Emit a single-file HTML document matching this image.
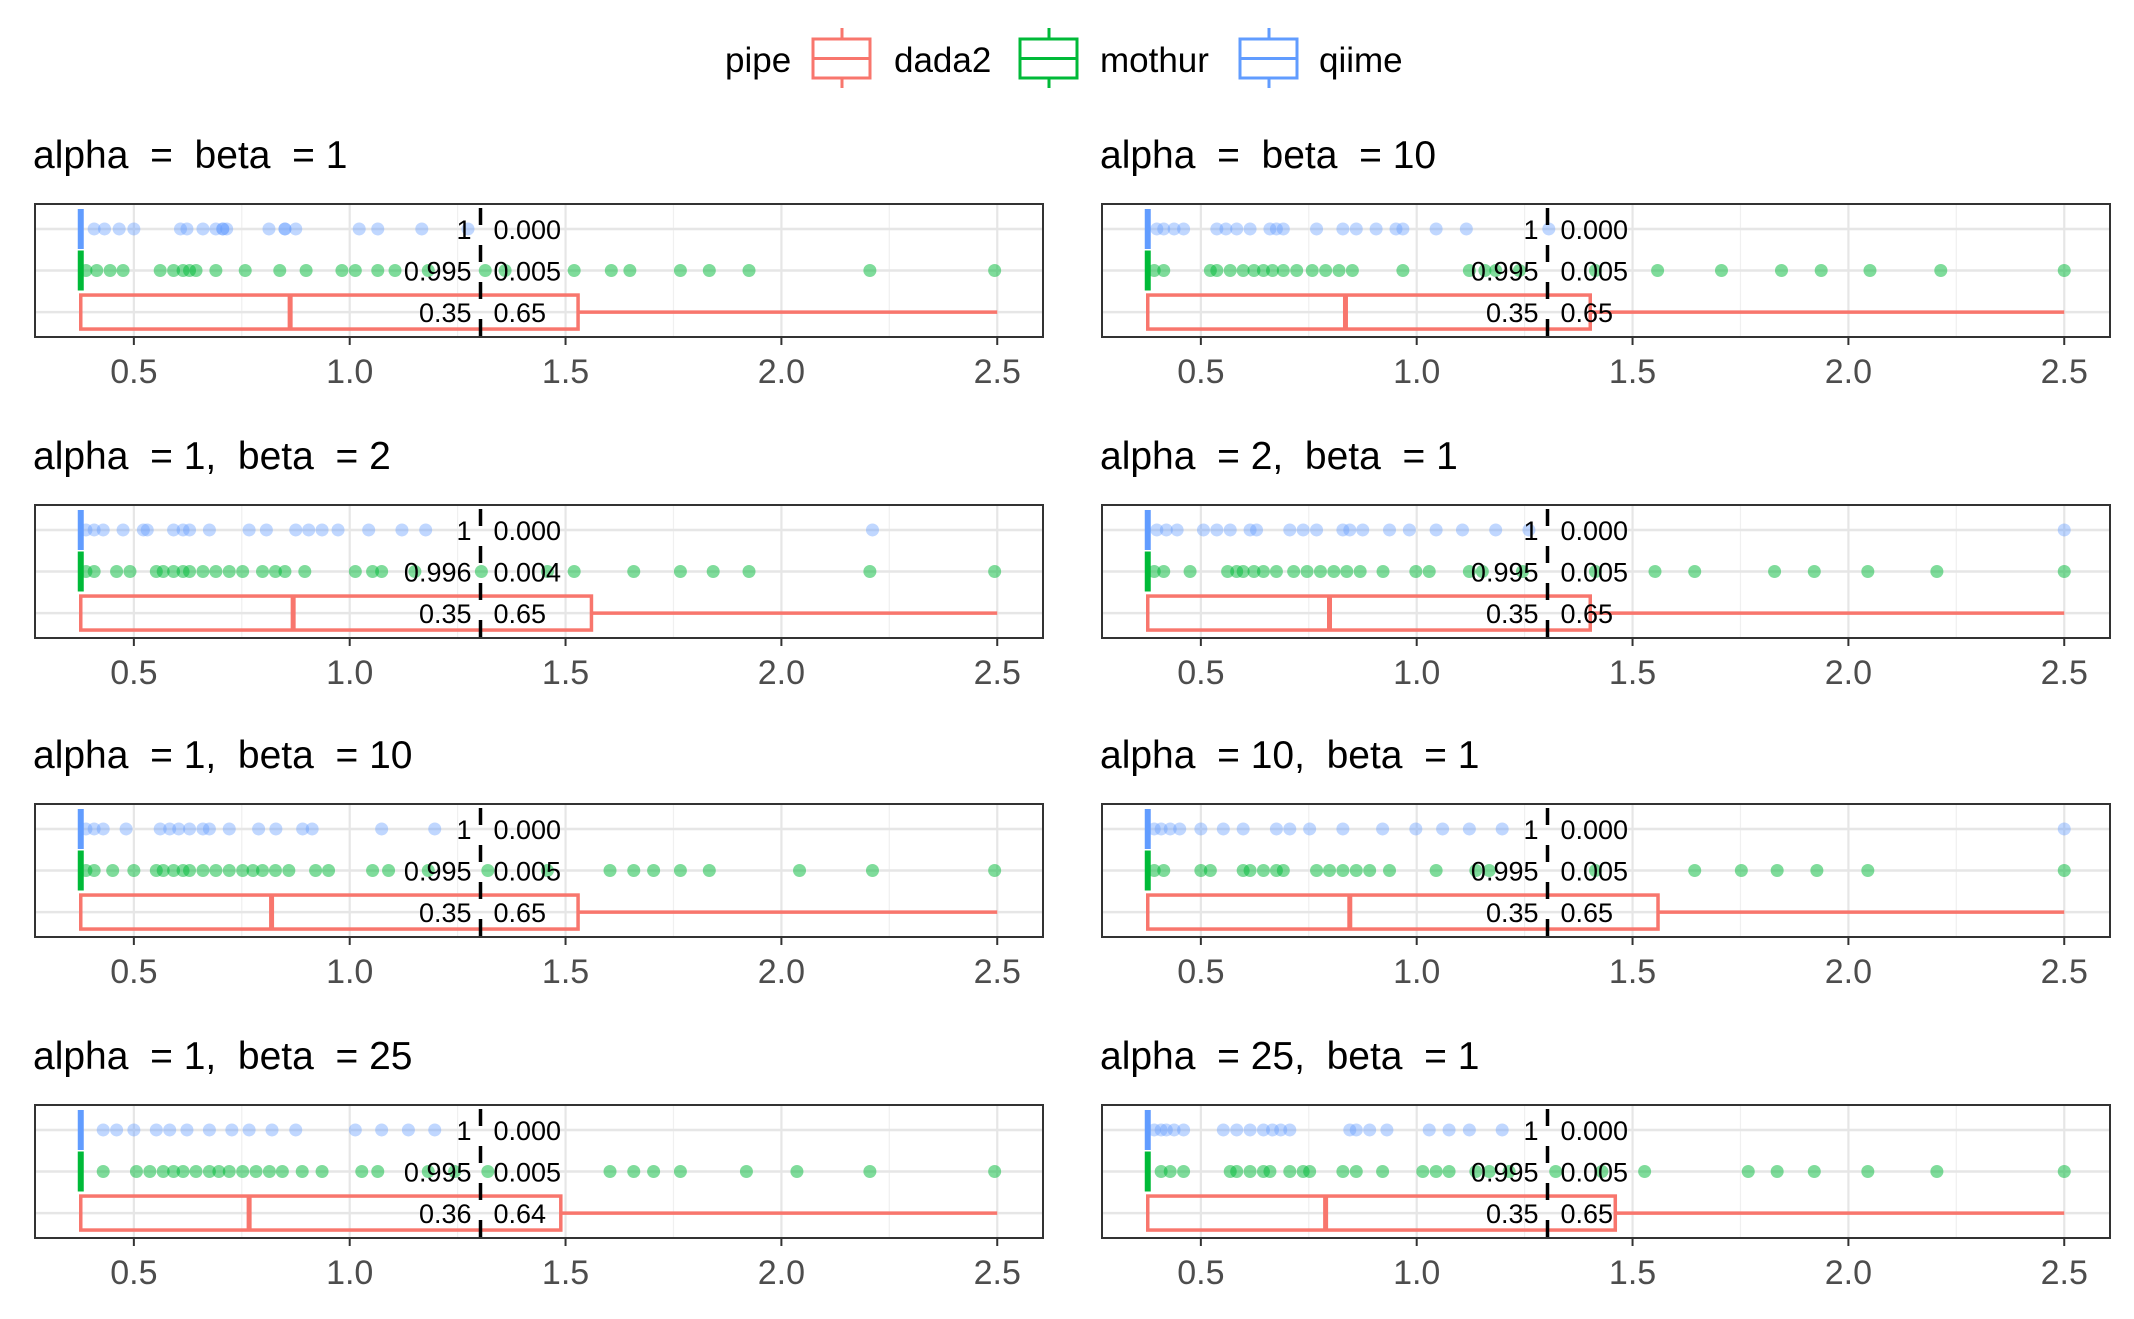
<!DOCTYPE html>
<html><head><meta charset="utf-8">
<style>
html,body{margin:0;padding:0;background:#fff;}
svg{display:block;font-family:"Liberation Sans",Arial,sans-serif;}
</style></head>
<body>
<svg id="chart" width="2134" height="1319" viewBox="0 0 2134 1319" xmlns="http://www.w3.org/2000/svg">
  <g>
    <text x="725" y="72" font-size="35" fill="#000">pipe</text>
    <g>
      <line x1="842" y1="28" x2="842" y2="88" stroke="#F8766D" stroke-width="3"/>
      <rect x="813" y="39" width="57" height="39" fill="#fff" stroke="#F8766D" stroke-width="3"/>
      <line x1="813" y1="58.5" x2="870" y2="58.5" stroke="#F8766D" stroke-width="3"/>
      <text x="894" y="72" font-size="35" fill="#000">dada2</text>
    </g>
    <g>
      <line x1="1049" y1="28" x2="1049" y2="88" stroke="#00BA38" stroke-width="3"/>
      <rect x="1020" y="39" width="57" height="39" fill="#fff" stroke="#00BA38" stroke-width="3"/>
      <line x1="1020" y1="58.5" x2="1077" y2="58.5" stroke="#00BA38" stroke-width="3"/>
      <text x="1100" y="72" font-size="35" fill="#000">mothur</text>
    </g>
    <g>
      <line x1="1269" y1="28" x2="1269" y2="88" stroke="#619CFF" stroke-width="3"/>
      <rect x="1240" y="39" width="57" height="39" fill="#fff" stroke="#619CFF" stroke-width="3"/>
      <line x1="1240" y1="58.5" x2="1297" y2="58.5" stroke="#619CFF" stroke-width="3"/>
      <text x="1319" y="72" font-size="35" fill="#000">qiime</text>
    </g>
  </g>
</svg>
<script>
const panelTitles = ["alpha  =  beta  = 1","alpha  =  beta  = 10","alpha  = 1,  beta  = 2","alpha  = 2,  beta  = 1","alpha  = 1,  beta  = 10","alpha  = 10,  beta  = 1","alpha  = 1,  beta  = 25","alpha  = 25,  beta  = 1"];
const xTicks = [0.5, 1.0, 1.5, 2.0, 2.5];
const xTickLabels = ["0.5","1.0","1.5","2.0","2.5"];
const xMinorTicks = [0.75, 1.25, 1.75, 2.25];
const xDomain = [0.271, 2.606];
const cutoff = 1.303;
const minValue = 0.377;
const qiimePoints = [
 [0.408,0.432,0.466,0.5,0.608,0.623,0.66,0.69,0.706,0.706,0.715,0.813,0.85,0.85,0.875,1.022,1.065,1.167,1.274],
 [0.398,0.414,0.438,0.46,0.537,0.558,0.583,0.614,0.66,0.675,0.691,0.768,0.829,0.86,0.906,0.952,0.968,1.045,1.115,1.306],
 [0.389,0.408,0.429,0.475,0.522,0.531,0.592,0.614,0.629,0.675,0.767,0.807,0.875,0.905,0.936,0.973,1.044,1.121,1.176,2.211],
 [0.398,0.42,0.445,0.506,0.537,0.568,0.614,0.629,0.706,0.737,0.768,0.829,0.845,0.875,0.937,0.983,1.045,1.106,1.183,1.26,2.5],
 [0.389,0.408,0.429,0.482,0.561,0.583,0.604,0.629,0.66,0.675,0.721,0.789,0.829,0.891,0.913,1.074,1.197],
 [0.392,0.408,0.429,0.451,0.5,0.552,0.598,0.675,0.706,0.752,0.829,0.921,0.998,1.06,1.122,1.198,2.5],
 [0.429,0.46,0.5,0.552,0.583,0.623,0.675,0.727,0.767,0.82,0.875,1.013,1.074,1.136,1.197],
 [0.392,0.408,0.42,0.438,0.46,0.552,0.583,0.614,0.645,0.666,0.685,0.706,0.845,0.86,0.891,0.931,1.029,1.075,1.122,1.198]
];
const mothurPoints = [
 [0.389,0.414,0.445,0.475,0.561,0.592,0.614,0.629,0.644,0.69,0.758,0.838,0.899,0.982,1.013,1.065,1.105,1.182,1.314,1.36,1.52,1.606,1.649,1.766,1.833,1.925,2.205,2.494],
 [0.392,0.414,0.522,0.537,0.568,0.598,0.623,0.645,0.666,0.691,0.722,0.758,0.789,0.82,0.851,0.968,1.122,1.158,1.183,1.238,1.414,1.558,1.706,1.845,1.937,2.05,2.214,2.5],
 [0.389,0.408,0.46,0.491,0.552,0.568,0.592,0.614,0.629,0.66,0.69,0.721,0.752,0.798,0.828,0.85,0.896,1.013,1.053,1.074,1.151,1.305,1.458,1.52,1.658,1.766,1.842,1.925,2.205,2.494],
 [0.392,0.414,0.475,0.562,0.583,0.598,0.623,0.645,0.675,0.715,0.746,0.777,0.808,0.838,0.869,0.922,0.998,1.029,1.122,1.152,1.245,1.414,1.552,1.644,1.829,1.921,2.045,2.205,2.5],
 [0.389,0.408,0.451,0.5,0.552,0.568,0.592,0.614,0.629,0.66,0.69,0.721,0.752,0.776,0.798,0.828,0.859,0.921,0.951,1.053,1.09,1.182,1.32,1.458,1.603,1.658,1.704,1.766,1.833,2.042,2.211,2.494],
 [0.392,0.414,0.5,0.522,0.598,0.614,0.645,0.675,0.691,0.768,0.798,0.829,0.86,0.891,0.937,1.045,1.137,1.168,1.414,1.644,1.752,1.835,1.927,2.045,2.5],
 [0.429,0.506,0.537,0.568,0.592,0.614,0.644,0.675,0.697,0.721,0.752,0.783,0.814,0.844,0.89,0.936,1.028,1.065,1.182,1.243,1.32,1.603,1.658,1.704,1.766,1.919,2.036,2.205,2.494],
 [0.408,0.429,0.46,0.568,0.583,0.614,0.645,0.66,0.706,0.737,0.752,0.829,0.86,0.921,1.014,1.045,1.075,1.137,1.168,1.214,1.322,1.429,1.528,1.768,1.835,1.921,2.045,2.205,2.5]
];
const dadaMedian = [0.862,0.835,0.869,0.798,0.819,0.845,0.767,0.789];
const dadaQ3 = [1.529,1.402,1.56,1.402,1.529,1.559,1.489,1.46];
const dadaMax = [2.5,2.5,2.5,2.5,2.5,2.5,2.5,2.5];
const leftLabels = [["1","0.995","0.35"],["1","0.995","0.35"],["1","0.996","0.35"],["1","0.995","0.35"],["1","0.995","0.35"],["1","0.995","0.35"],["1","0.995","0.36"],["1","0.995","0.35"]];
const rightLabels = [["0.000","0.005","0.65"],["0.000","0.005","0.65"],["0.000","0.004","0.65"],["0.000","0.005","0.65"],["0.000","0.005","0.65"],["0.000","0.005","0.65"],["0.000","0.005","0.64"],["0.000","0.005","0.65"]];

const svg = document.getElementById('chart');
const NS = 'http://www.w3.org/2000/svg';
function mk(tag, attrs, parent){const e=document.createElementNS(NS,tag);for(const k in attrs)e.setAttribute(k,attrs[k]);parent.appendChild(e);return e;}
const PW=1008, PH=133;
const lefts=[35,1102], tops=[204,505,804,1105];
const colors={qiime:'#619CFF',mothur:'#00BA38',dada2:'#F8766D'};

for(let p=0;p<8;p++){
  const L=lefts[p%2], T=tops[Math.floor(p/2)];
  const xs=v=>L+(v-xDomain[0])/(xDomain[1]-xDomain[0])*PW;
  const ys=k=>T+(3.6-k)/3.2*PH;
  const g=mk('g',{},svg);
  
  
  const title=mk('text',{x:L-2,y:T-36,'font-size':39,fill:'#000'},g);
  
  
  title.style.whiteSpace='pre';
  title.textContent=panelTitles[p];
  const bg=mk('rect',{x:L,y:T,width:PW,height:PH,fill:'#fff'},g);
  
  
  xMinorTicks.forEach(v=>{const l=mk('line',{x1:xs(v),x2:xs(v),y1:T,y2:T+PH,stroke:'#f0f0f0','stroke-width':1.2},g);
    });
  xTicks.forEach(v=>{const l=mk('line',{x1:xs(v),x2:xs(v),y1:T,y2:T+PH,stroke:'#e6e6e6','stroke-width':2.2},g);
    });
  [1,2,3].forEach(k=>{const l=mk('line',{x1:L,x2:L+PW,y1:ys(k),y2:ys(k),stroke:'#e6e6e6','stroke-width':2.5},g);
    });
  const qy=ys(3), my=ys(2), dy=ys(1);
  qiimePoints[p].forEach(v=>{const c=mk('circle',{cx:xs(v),cy:qy,r:6.5,fill:colors.qiime,'fill-opacity':0.4},g);
    });
  const qb=mk('line',{x1:xs(minValue),x2:xs(minValue),y1:qy-20,y2:qy+20,stroke:colors.qiime,'stroke-width':6},g);
  
  mothurPoints[p].forEach(v=>{const c=mk('circle',{cx:xs(v),cy:my,r:6.5,fill:colors.mothur,'fill-opacity':0.5},g);
    });
  const mb=mk('line',{x1:xs(minValue),x2:xs(minValue),y1:my-20,y2:my+20,stroke:colors.mothur,'stroke-width':6},g);
  
  const wh=mk('line',{x1:xs(dadaQ3[p]),x2:xs(dadaMax[p]),y1:dy,y2:dy,stroke:colors.dada2,'stroke-width':3.5},g);
  
  const db=mk('rect',{x:xs(minValue),y:dy-17,width:xs(dadaQ3[p])-xs(minValue),height:34,fill:'none',stroke:colors.dada2,'stroke-width':3.5},g);
  
  const md=mk('line',{x1:xs(dadaMedian[p]),x2:xs(dadaMedian[p]),y1:dy-17,y2:dy+17,stroke:colors.dada2,'stroke-width':5},g);
  
  const cx=xs(cutoff);
  const dl=mk('line',{x1:cx,x2:cx,y1:T,y2:T+PH,stroke:'#000','stroke-width':3.5,'stroke-dasharray':'17 20','stroke-dashoffset':'-4'},g);
  
  [3,2,1].forEach((k,i)=>{
    const t1=mk('text',{x:cx-9,y:ys(k)+10,'font-size':27,'text-anchor':'end',fill:'#000'},g);
    
    t1.textContent=leftLabels[p][i];
    const t2=mk('text',{x:cx+13,y:ys(k)+10,'font-size':27,fill:'#000'},g);
    
    t2.textContent=rightLabels[p][i];
  });
  const br=mk('rect',{x:L,y:T,width:PW,height:PH,fill:'none',stroke:'#333','stroke-width':2},g);
  
  xTicks.forEach((v,i)=>{
    const tk=mk('line',{x1:xs(v),x2:xs(v),y1:T+PH,y2:T+PH+8,stroke:'#333','stroke-width':2},g);
    
    const tl=mk('text',{x:xs(v),y:T+PH+46,'font-size':34,'text-anchor':'middle',fill:'#4d4d4d'},g);
    
    tl.textContent=xTickLabels[i];
  });
}
</script>
</body></html>
